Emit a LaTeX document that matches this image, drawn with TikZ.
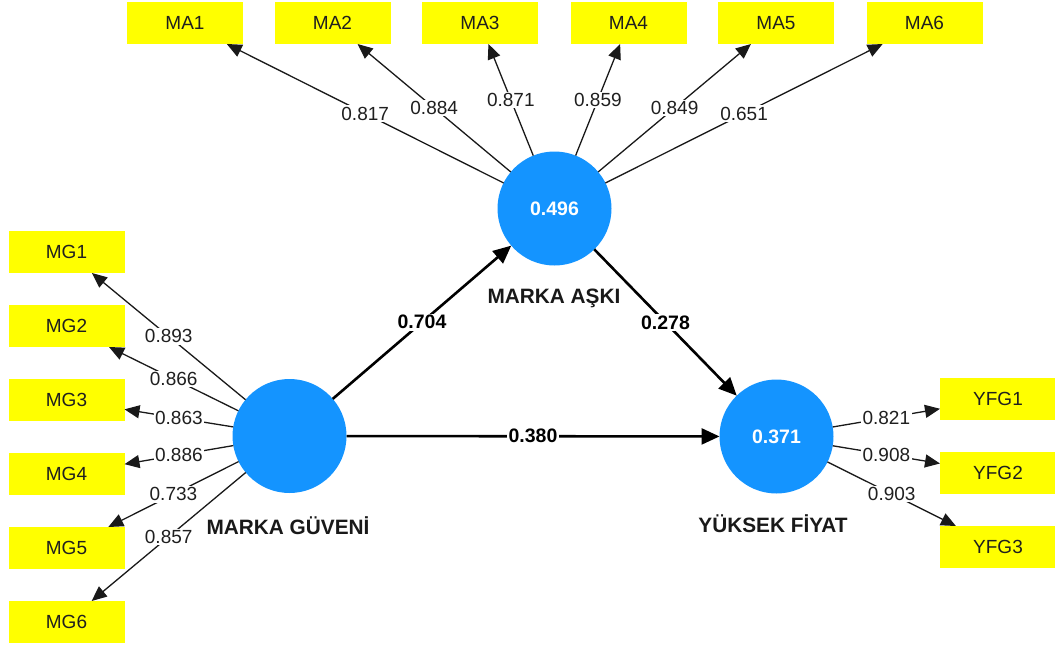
\documentclass[tikz,border=0pt]{standalone}
\usepackage{fontspec}
\setmainfont{Liberation Sans}
\usetikzlibrary{arrows.meta}
\definecolor{lvblue}{RGB}{20,148,255}
\definecolor{indyellow}{RGB}{255,255,0}
\begin{document}
\begin{tikzpicture}[x=1pt,y=-1pt,
 ind/.style={fill=indyellow, minimum width=116pt, minimum height=42pt, inner sep=0pt, outer sep=0pt, text=black!88, font=\fontsize{19}{19}\selectfont},
 lv/.style={circle, fill=lvblue, minimum size=114pt, inner sep=0pt, outer sep=0pt, text=white, font=\bfseries\fontsize{19.5}{19.5}\selectfont},
 lvname/.style={text=black!90, font=\bfseries\fontsize{20.8}{20.8}\selectfont},
 loading/.style={-{Triangle[length=15pt,width=13pt]}, line width=1.3pt, draw=black!90},
 struct/.style={-{Triangle[length=18pt,width=16pt]}, line width=2.6pt},
 lbl/.style={fill=white, inner sep=1.5pt, text=black!88, font=\fontsize{19}{19}\selectfont},
 plbl/.style={fill=white, inner sep=1.5pt, font=\bfseries\fontsize{19.5}{19.5}\selectfont}]
\useasboundingbox (0,0) rectangle (1055,648);

% indicators
\node[ind] (MA1) at (185,23) {MA1};
\node[ind] (MA2) at (332.5,23) {MA2};
\node[ind] (MA3) at (480,23) {MA3};
\node[ind] (MA4) at (628.5,23) {MA4};
\node[ind] (MA5) at (776,23) {MA5};
\node[ind] (MA6) at (924.5,23) {MA6};

\node[ind] (MG1) at (66.5,252) {MG1};
\node[ind] (MG2) at (66.5,326) {MG2};
\node[ind] (MG3) at (66.5,400) {MG3};
\node[ind] (MG4) at (66.5,474) {MG4};
\node[ind] (MG5) at (66.5,548) {MG5};
\node[ind] (MG6) at (66.5,622) {MG6};

\node[ind] (YFG1) at (998,399) {YFG1};
\node[ind] (YFG2) at (998,473) {YFG2};
\node[ind] (YFG3) at (998,547) {YFG3};

% latent variables
\node[lv] (MA) at (554.5,208.5) {0.496};
\node[lv] (MG) at (289.5,436) {};
\node[lv] (YF) at (776.5,436.5) {0.371};

\node[lvname] (MAn) at (554,298) {MARKA AŞKI};
\node[lvname] (MGn) at (288,526) {MARKA GÜVENİ};
\node[lvname] (YFn) at (773,524) {YÜKSEK FİYAT};

% loadings
\draw[loading] (MA) -- node[lbl] {0.817} (MA1);
\draw[loading] (MA) -- node[lbl] {0.884} (MA2);
\draw[loading] (MA) -- node[lbl] {0.871} (MA3);
\draw[loading] (MA) -- node[lbl] {0.859} (MA4);
\draw[loading] (MA) -- node[lbl] {0.849} (MA5);
\draw[loading] (MA) -- node[lbl] {0.651} (MA6);

\draw[loading] (MG) -- node[lbl] {0.893} (MG1);
\draw[loading] (MG) -- node[lbl] {0.866} (MG2);
\draw[loading] (MG) -- node[lbl] {0.863} (MG3);
\draw[loading] (MG) -- node[lbl] {0.886} (MG4);
\draw[loading] (MG) -- node[lbl] {0.733} (MG5);
\draw[loading] (MG) -- node[lbl] {0.857} (MG6);

\draw[loading] (YF) -- node[lbl] {0.821} (YFG1);
\draw[loading] (YF) -- node[lbl] {0.908} (YFG2);
\draw[loading] (YF) -- node[lbl] {0.903} (YFG3);

% structural paths
\draw[struct] (MG) -- node[plbl] {0.704} (MA);
\draw[struct] (MA) -- node[plbl] {0.278} (YF);
\draw[struct] (MG) -- node[plbl] {0.380} (YF);
\end{tikzpicture}
\end{document}
